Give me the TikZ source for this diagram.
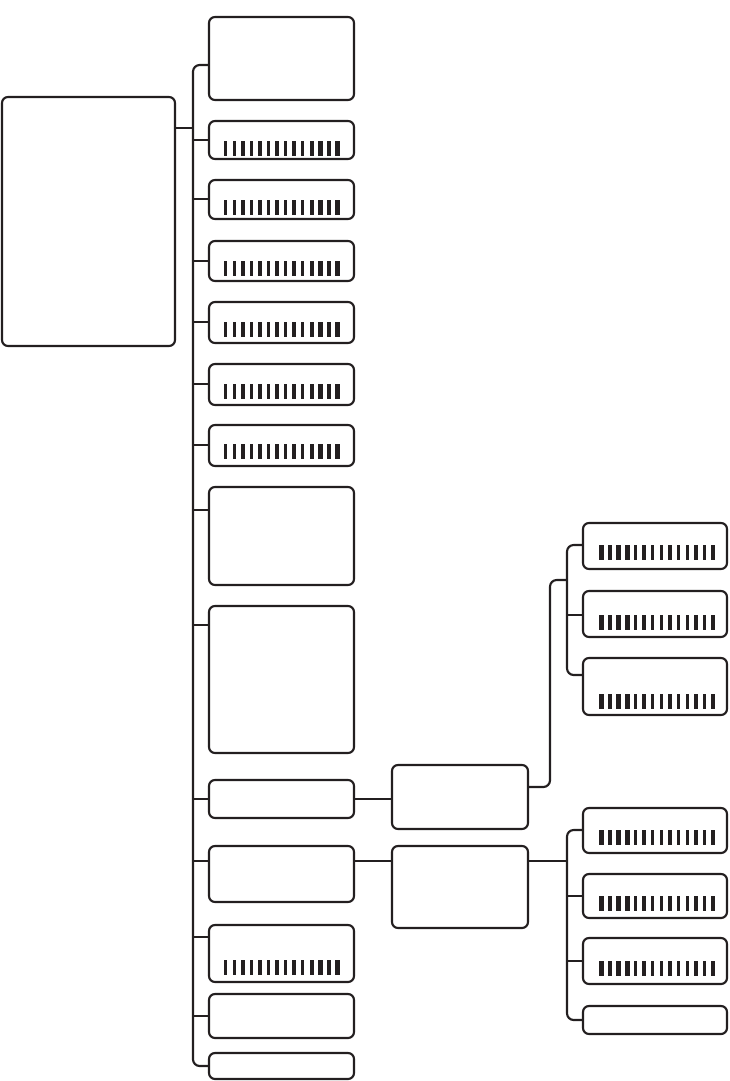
\documentclass[tikz,border=0pt]{standalone}
\usetikzlibrary{fit}
\definecolor{ink}{HTML}{231F20}
\tikzset{
  box/.style={draw=ink, line width=1.6pt, rounded corners=4.5pt, inner sep=0pt},
  conn/.style={draw=ink, line width=1.6pt},
  bar/.style={fill=ink}
}
% box: name, x1, y1, x2, y2, connector y
\newcommand\bx[6]{%
  \node[box, fit={(#2,#3) (#4,#5)}] (#1) {};
  \coordinate (#1-w) at (#2,#6);
  \coordinate (#1-e) at (#4,#6);
}
\newcommand\barsL[1]{%
  \foreach \i in {0,...,13}{%
    \pgfmathsetmacro\bw{\i>9 ? 4.8 : 3.4}%
    \fill[bar] ({224+\i*8.55},#1) rectangle ++(\bw,15);
  }%
}
\newcommand\barsR[1]{%
  \foreach \i in {0,...,13}{%
    \pgfmathsetmacro\bw{\i<4 ? 4.8 : 3.4}%
    \fill[bar] ({599+\i*8.65},#1) rectangle ++(\bw,15);
  }%
}
\begin{document}
\begin{tikzpicture}[x=0.75pt, y=-0.75pt]
\useasboundingbox (0,0) rectangle (730,1081);

% root
\bx{root}{2}{97}{175}{346}{128}

% left column
\bx{b1}{209}{17}{354}{100}{65}
\bx{b2}{209}{121}{354}{159}{140}
\bx{b3}{209}{180}{354}{219}{199}
\bx{b4}{209}{241}{354}{281}{261}
\bx{b5}{209}{302}{354}{343}{322}
\bx{b6}{209}{364}{354}{405}{384}
\bx{b7}{209}{425}{354}{466}{445}
\bx{b8}{209}{487}{354}{585}{510}
\bx{b9}{209}{606}{354}{753}{625}
\bx{b10}{209}{780}{354}{818}{799}
\bx{b11}{209}{846}{354}{902}{861}
\bx{b12}{209}{925}{354}{982}{937}
\bx{b13}{209}{994}{354}{1038}{1016}
\bx{b14}{209}{1053}{354}{1079}{1066}

% middle column
\bx{A}{392}{765}{528}{829}{787}
\bx{B}{392}{846}{528}{928}{861}

% right column
\bx{R1}{583}{523}{727}{569}{545}
\bx{R2}{583}{591}{727}{637}{615}
\bx{R3}{583}{658}{727}{715}{675}
\bx{R4}{583}{808}{727}{853}{830}
\bx{R5}{583}{874}{727}{918}{896}
\bx{R6}{583}{938}{727}{984}{961}
\bx{R7}{583}{1006}{727}{1034}{1020}

% bar patterns
\barsL{141}
\barsL{200}
\barsL{261}
\barsL{322}
\barsL{384}
\barsL{444}
\barsL{960}
\barsR{545}
\barsR{615}
\barsR{694}
\barsR{830}
\barsR{896}
\barsR{961}

% main trunk
\coordinate (tr) at (193,0);
\draw[conn, rounded corners=5] (b1-w) -| (tr |- b14-w) -- (b14-w);
\foreach \n in {2,...,13} \draw[conn] (tr |- b\n-w) -- (b\n-w);
\draw[conn] (root-e) -- (tr |- root-e);

% to middle column
\draw[conn] (b10-e) -- (b10-e -| A.west);
\draw[conn] (b11-e) -- (b11-e -| B.west);

% upper right group
\coordinate (st) at (567,0);
\coordinate (j1) at (550,580);
\draw[conn, rounded corners=5] (A-e) -| (j1) -- (j1 -| st);
\draw[conn, rounded corners=5] (R1-w) -| (st |- R3-w) -- (R3-w);
\draw[conn] (st |- R2-w) -- (R2-w);

% lower right group
\draw[conn] (B-e) -- (st |- B-e);
\draw[conn, rounded corners=5] (R4-w) -| (st |- R7-w) -- (R7-w);
\draw[conn] (st |- R5-w) -- (R5-w);
\draw[conn] (st |- R6-w) -- (R6-w);
\end{tikzpicture}
\end{document}
